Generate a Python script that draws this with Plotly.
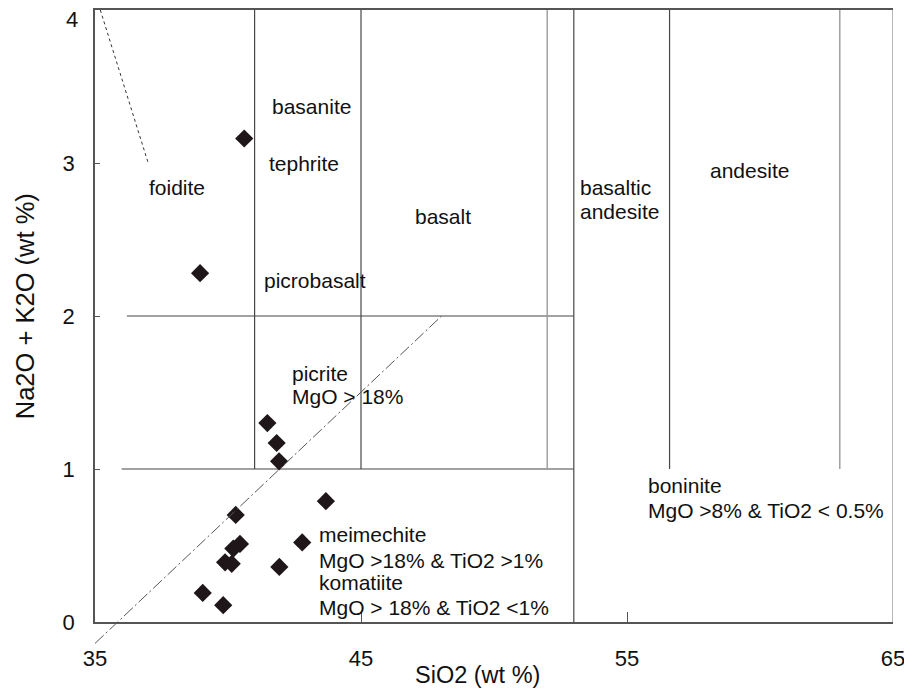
import plotly.graph_objects as go

# ---- data ----
sio2 = [40.61, 38.95, 41.48, 41.83, 41.92, 43.68, 40.29, 42.79, 40.45, 40.20,
        39.89, 40.14, 41.93, 39.05, 39.82]
alk = [3.16, 2.28, 1.30, 1.17, 1.05, 0.79, 0.70, 0.52, 0.51, 0.48,
       0.39, 0.38, 0.36, 0.19, 0.11]

x_ticks = [35, 45, 55, 65]
y_ticks = [0, 1, 2, 3, 4]

# field boundaries (x0, y0, x1, y1)
dark_bounds = [(41, 1, 41, 4), (45, 1, 45, 4), (53, 0, 53, 4), (56.6, 1, 56.6, 4),
               (36.2, 2, 53, 2), (36.0, 1, 53, 1)]
light_bounds = [(52, 1, 52, 4), (63, 1, 63, 4), (65, 0, 65, 4)]
foid_line = (35.2, 4.0, 37.0, 3.0)
diag_line = (35.0, -0.14, 48.03, 2.0)

label_text = ["foidite", "basanite", "tephrite", "basalt", "picrobasalt",
              "basaltic", "andesite", "andesite",
              "picrite", "MgO > 18%",
              "meimechite", "MgO >18% & TiO2 >1%", "komatiite", "MgO > 18% & TiO2 <1%",
              "boninite", "MgO >8% & TiO2 < 0.5%"]
label_x = [36.95, 41.58, 41.46, 46.95, 41.27,
           53.15, 53.15, 58.03,
           42.33, 42.33,
           43.33, 43.33, 43.33, 43.33,
           55.71, 55.71]
label_y = [2.84, 3.37, 3.0, 2.65, 2.235,
           2.843, 2.686, 2.95,
           1.627, 1.471,
           0.569, 0.405, 0.255, 0.092,
           0.895, 0.732]

XR = [35, 65]
YR = [0, 4]
FONT = "Liberation Sans, Arial, sans-serif"

fig = go.Figure()

fig.add_trace(go.Scatter(
    x=sio2, y=alk, mode="markers",
    marker=dict(symbol="diamond", size=14, color="#1e1618"),
    showlegend=False, hoverinfo="x+y"))

shapes = []
for (x0, y0, x1, y1) in dark_bounds:
    shapes.append(dict(type="line", xref="x", yref="y", x0=x0, y0=y0, x1=x1, y1=y1,
                       line=dict(color="#474747", width=1.2), layer="below"))
for (x0, y0, x1, y1) in light_bounds:
    shapes.append(dict(type="line", xref="x", yref="y", x0=x0, y0=y0, x1=x1, y1=y1,
                       line=dict(color="#9a9a9a", width=1.4), layer="below"))

x0, y0, x1, y1 = foid_line
shapes.append(dict(type="line", xref="x", yref="y", x0=x0, y0=y0, x1=x1, y1=y1,
                   line=dict(color="#333333", width=1, dash="dot")))


def dx(v):
    return (v - XR[0]) / (XR[1] - XR[0])


def dy(v):
    return (v - YR[0]) / (YR[1] - YR[0])


x0, y0, x1, y1 = diag_line
shapes.append(dict(type="line", xref="x domain", yref="y domain",
                   x0=dx(x0), y0=dy(y0), x1=dx(x1), y1=dy(y1),
                   line=dict(color="#555555", width=1, dash="12px,3px,2px,3px")))

annotations = []
for t, x, y in zip(label_text, label_x, label_y):
    annotations.append(dict(text=t, x=x, y=y, xref="x", yref="y",
                            xanchor="left", yanchor="middle", showarrow=False,
                            font=dict(family=FONT, size=21, color="#111111")))

# top y tick label (drawn slightly lower, as in the original, so it stays on the page)
annotations.append(dict(text=str(y_ticks[-1]), xref="paper", yref="y", x=0, y=y_ticks[-1],
                        xanchor="right", yanchor="middle", xshift=-15, yshift=-9,
                        showarrow=False, font=dict(family=FONT, size=22, color="#111111")))

annotations.append(dict(text="SiO2 (wt %)", xref="paper", yref="paper",
                        x=0.4787, y=-0.0866, xanchor="center", yanchor="middle",
                        showarrow=False, font=dict(family=FONT, size=23.5, color="#111111")))
annotations.append(dict(text="Na2O + K2O (wt %)", xref="paper", yref="paper",
                        x=-0.0877, y=0.516, xanchor="center", yanchor="middle",
                        textangle=-90, showarrow=False,
                        font=dict(family=FONT, size=25.5, color="#111111")))

fig.update_layout(
    width=904, height=686,
    margin=dict(l=87, r=19, t=2, b=72, autoexpand=False),
    paper_bgcolor="white", plot_bgcolor="white",
    shapes=shapes, annotations=annotations,
    font=dict(family=FONT, color="#111111"),
    xaxis=dict(range=XR, tickvals=x_ticks, showgrid=False, zeroline=False,
               showline=True, linecolor="#555555", linewidth=1.5, mirror=True,
               ticks="inside", ticklen=10, tickcolor="#555555", automargin=False,
               ticklabeloverflow="allow",
               ticklabelstandoff=16, tickfont=dict(family=FONT, size=22, color="#111111")),
    yaxis=dict(range=YR, tickvals=y_ticks[:-1], showgrid=False, zeroline=False,
               showline=True, linecolor="#555555", linewidth=1.5, automargin=False,
               ticks="inside", ticklen=5, tickcolor="#555555",
               ticklabelstandoff=14, tickfont=dict(family=FONT, size=22, color="#111111")),
)

fig.write_html("out.html")
